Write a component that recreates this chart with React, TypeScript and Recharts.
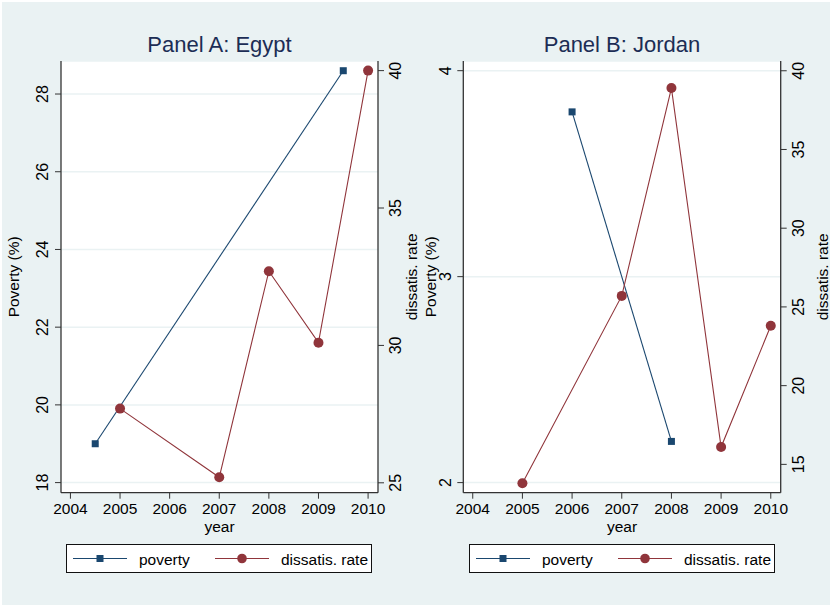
import { LineChart, Line, XAxis, YAxis, CartesianGrid } from 'recharts';

const years = [2004, 2005, 2006, 2007, 2008, 2009, 2010];

// Panel A: Egypt
const egyptPovertyYears = [2004.5, 2009.5];
const egyptPoverty = [19.0, 28.6];
const egyptDissatYears = [2005, 2007, 2008, 2009, 2010];
const egyptDissat = [27.7, 25.2, 32.7, 30.1, 40.0];
const egyptPovertyTicks = [18, 20, 22, 24, 26, 28];
const egyptDissatTicks = [25, 30, 35, 40];

// Panel B: Jordan
const jordanPovertyYears = [2006, 2008];
const jordanPoverty = [3.8, 2.2];
const jordanDissatYears = [2005, 2007, 2008, 2009, 2010];
const jordanDissat = [13.8, 25.7, 38.9, 16.1, 23.8];
const jordanPovertyTicks = [2, 3, 4];
const jordanDissatTicks = [15, 20, 25, 30, 35, 40];

const NAVY = '#1a476f';
const MAROON = '#90353b';
const BG = '#eaf2f3';
const AXIS = '#333';
const FONT = '"Liberation Sans", Arial, sans-serif';

const toRows = (xs: number[], vs: number[]) => xs.map((year, i) => ({ year, v: vs[i] }));

const RotTick = (props: any) => {
  const { x, y, payload } = props;
  return (
    <text x={x} y={y} transform={`rotate(-90 ${x} ${y})`} textAnchor="middle"
      dominantBaseline="central" fontSize={16} fill="#000">
      {payload.value}
    </text>
  );
};

const YTitle = (props: any) => {
  const { viewBox, value, side, dist } = props;
  const { x, y, width, height } = viewBox;
  const cx = side === 'left' ? x + width - dist : x + dist;
  const cy = y + height / 2;
  return (
    <text x={cx} y={cy} transform={`rotate(-90 ${cx} ${cy})`} textAnchor="middle"
      dominantBaseline="central" fontSize={15.5} fill="#000">
      {value}
    </text>
  );
};

const XTitle = (props: any) => {
  const { viewBox } = props;
  const { x, y, width } = viewBox;
  return (
    <text x={x + width / 2} y={y + 34} textAnchor="middle" dominantBaseline="central"
      fontSize={15.5} fill="#000">year</text>
  );
};

const squareDot = (p: any) => (
  <rect key={`sq-${p.index}`} x={p.cx - 3.5} y={p.cy - 3.5} width={7} height={7} fill={NAVY} />
);
const circleDot = (p: any) => (
  <circle key={`ci-${p.index}`} cx={p.cx} cy={p.cy} r={5} fill={MAROON} />
);

function LegendBox({ left }: { left: number }) {
  return (
    <div style={{ position: 'absolute', left, top: 544, width: 306, height: 29,
      border: '1px solid #111', background: '#fff', boxSizing: 'border-box' }}>
      <svg width={304} height={27} style={{ display: 'block' }}>
        <line x1={6} x2={60} y1={13.5} y2={13.5} stroke={NAVY} strokeWidth={1.2} />
        <rect x={29.5} y={10} width={7} height={7} fill={NAVY} />
        <text x={72} y={14} dominantBaseline="central" fontSize={15.5} fill="#000">poverty</text>
        <line x1={148} x2={202} y1={13.5} y2={13.5} stroke={MAROON} strokeWidth={1.2} />
        <circle cx={175} cy={13.5} r={4.8} fill={MAROON} />
        <text x={214} y={14} dominantBaseline="central" fontSize={15.5} fill="#000">dissatis. rate</text>
      </svg>
    </div>
  );
}

type PanelProps = {
  title: string;
  left: number;
  width: number;
  leftW: number;
  rightW: number;
  leftDist: number;
  rightDist: number;
  pov: { year: number; v: number }[];
  dis: { year: number; v: number }[];
  povDomain: [number, number];
  disDomain: [number, number];
  povTicks: number[];
  disTicks: number[];
  legendLeft: number;
};

function Panel(p: PanelProps) {
  const H = 606;
  const top = 61;
  const bottom = 73.3;
  const plotW = p.width - p.leftW - p.rightW;
  return (
    <>
      <div style={{ position: 'absolute', left: p.left + p.leftW, top: 33, width: plotW,
        textAlign: 'center', fontSize: 22, lineHeight: '24px', color: '#1c2d55' }}>
        {p.title}
      </div>
      <div style={{ position: 'absolute', left: p.left, top: 0 }}>
        <LineChart width={p.width} height={H} margin={{ top, right: 0, bottom, left: 0 }}>
          <CartesianGrid yAxisId="left" vertical={false} fill="#fff" stroke={BG} strokeWidth={1.5} />
          <XAxis type="number" dataKey="year" domain={[2003.81, 2010.2]} ticks={years}
            allowDataOverflow height={40} stroke={AXIS} tickSize={6} tickMargin={4}
            tick={{ fill: '#000', fontSize: 15.5 }} axisLine={{ stroke: AXIS, strokeWidth: 1.3 }}
            label={<XTitle />} />
          <YAxis yAxisId="left" orientation="left" type="number" domain={p.povDomain}
            ticks={p.povTicks} allowDataOverflow width={p.leftW} tickSize={6} tickMargin={12}
            stroke={AXIS} axisLine={{ stroke: AXIS, strokeWidth: 1.3 }} tick={<RotTick />}
            label={<YTitle value="Poverty (%)" side="left" dist={p.leftDist} />} />
          <YAxis yAxisId="right" orientation="right" type="number" domain={p.disDomain}
            ticks={p.disTicks} allowDataOverflow width={p.rightW} tickSize={6} tickMargin={12}
            stroke={AXIS} axisLine={{ stroke: AXIS, strokeWidth: 1.3 }} tick={<RotTick />}
            label={<YTitle value="dissatis. rate" side="right" dist={p.rightDist} />} />
          <Line data={p.pov} dataKey="v" yAxisId="left" type="linear" stroke={NAVY}
            strokeWidth={1.1} dot={squareDot} activeDot={false} isAnimationActive={false} />
          <Line data={p.dis} dataKey="v" yAxisId="right" type="linear" stroke={MAROON}
            strokeWidth={1.1} dot={circleDot} activeDot={false} isAnimationActive={false} />
        </LineChart>
      </div>
      <LegendBox left={p.legendLeft} />
    </>
  );
}

export default function App() {
  return (
    <div style={{ position: 'absolute', left: 0, top: 0, width: 831, height: 606,
      background: '#fff', fontFamily: FONT }}>
      <div style={{ position: 'absolute', left: 2, top: 2, right: 1, bottom: 1, background: BG }} />
      <Panel title="Panel A: Egypt" left={0} width={430} leftW={61} rightW={52}
        leftDist={47} rightDist={34}
        pov={toRows(egyptPovertyYears, egyptPoverty)} dis={toRows(egyptDissatYears, egyptDissat)}
        povDomain={[17.74, 28.85]} disDomain={[24.64, 40.35]}
        povTicks={egyptPovertyTicks} disTicks={egyptDissatTicks} legendLeft={66} />
      <Panel title="Panel B: Jordan" left={400} width={431} leftW={63.3} rightW={50.3}
        leftDist={32.6} rightDist={42}
        pov={toRows(jordanPovertyYears, jordanPoverty)} dis={toRows(jordanDissatYears, jordanDissat)}
        povDomain={[1.951, 4.047]} disDomain={[13.2, 40.62]}
        povTicks={jordanPovertyTicks} disTicks={jordanDissatTicks} legendLeft={468.5} />
    </div>
  );
}
